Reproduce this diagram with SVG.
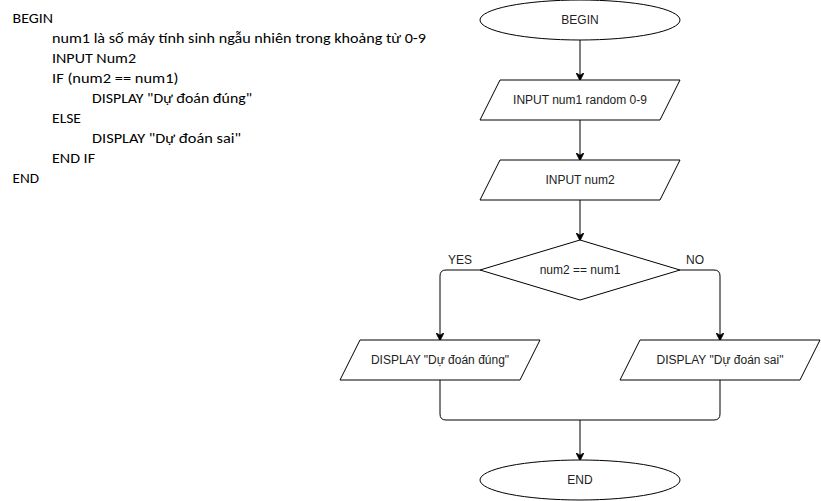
<svg xmlns="http://www.w3.org/2000/svg" width="821" height="501" viewBox="0 0 821 501">
<style>
.code{font-family:Calibri,"Carlito","Liberation Sans",Arial,sans-serif;font-size:14.5px;fill:#000}
.shape{fill:#fff;stroke:#000;stroke-width:1}
.lbl{font-family:Helvetica,"Liberation Sans",Arial,sans-serif;font-size:12px;fill:#222;text-anchor:middle;dominant-baseline:central}
.edge{fill:none;stroke:#000;stroke-width:1}
</style>
<defs>
<marker id="arr" viewBox="0 0 10 10" refX="9" refY="5" markerWidth="8" markerHeight="8" markerUnits="userSpaceOnUse" orient="auto">
<path d="M0,0 L10,5 L0,10 L3,5 Z" fill="#000" stroke="#000" stroke-width="1"/>
</marker>
</defs>
<rect width="821" height="501" fill="#fff"/>
<g id="pseudocode">
<text class="code" x="12.5" y="23" textLength="40.5" lengthAdjust="spacingAndGlyphs">BEGIN</text>
<text class="code" x="52" y="43" textLength="374" lengthAdjust="spacingAndGlyphs">num1 là số máy tính sinh ngẫu nhiên trong khoảng từ 0-9</text>
<text class="code" x="52" y="63" textLength="84" lengthAdjust="spacingAndGlyphs">INPUT Num2</text>
<text class="code" x="52" y="83" textLength="126.5" lengthAdjust="spacingAndGlyphs">IF (num2 == num1)</text>
<text class="code" x="92" y="103" textLength="160" lengthAdjust="spacingAndGlyphs">DISPLAY "Dự đoán đúng"</text>
<text class="code" x="52" y="123" textLength="29" lengthAdjust="spacingAndGlyphs">ELSE</text>
<text class="code" x="92" y="143" textLength="149" lengthAdjust="spacingAndGlyphs">DISPLAY "Dự đoán sai"</text>
<text class="code" x="52" y="163" textLength="43" lengthAdjust="spacingAndGlyphs">END IF</text>
<text class="code" x="12.5" y="183" textLength="26.5" lengthAdjust="spacingAndGlyphs">END</text>
</g>
<g id="connectors">
<path class="edge" d="M580,40 L580,80" marker-end="url(#arr)"/>
<path class="edge" d="M580,120 L580,160" marker-end="url(#arr)"/>
<path class="edge" d="M580,200 L580,240" marker-end="url(#arr)"/>
<path class="edge" d="M480,270 L446,270 Q440,270 440,276 L440,340" marker-end="url(#arr)"/>
<path class="edge" d="M680,270 L714,270 Q720,270 720,276 L720,340" marker-end="url(#arr)"/>
<path class="edge" d="M440,380 L440,414 Q440,420 446,420 L714,420 Q720,420 720,414 L720,380"/>
<path class="edge" d="M580,420 L580,460" marker-end="url(#arr)"/>
<text class="lbl" x="460" y="260">YES</text>
<text class="lbl" x="695" y="260">NO</text>
</g>
<g id="begin">
<ellipse class="shape" cx="580" cy="20" rx="100" ry="20"/>
<text class="lbl" x="580" y="20">BEGIN</text>
</g>
<g id="input1">
<polygon class="shape" points="500,80 680,80 660,120 480,120"/>
<text class="lbl" x="580" y="100">INPUT num1 random 0-9</text>
</g>
<g id="input2">
<polygon class="shape" points="500,160 680,160 660,200 480,200"/>
<text class="lbl" x="580" y="180">INPUT num2</text>
</g>
<g id="decision">
<polygon class="shape" points="580,240 680,270 580,300 480,270"/>
<text class="lbl" x="580" y="270">num2 == num1</text>
</g>
<g id="display-yes">
<polygon class="shape" points="360,340 540,340 520,380 340,380"/>
<text class="lbl" x="440" y="360">DISPLAY "Dự đoán đúng"</text>
</g>
<g id="display-no">
<polygon class="shape" points="640,340 820,340 800,380 620,380"/>
<text class="lbl" x="720" y="360">DISPLAY "Dự đoán sai"</text>
</g>
<g id="end">
<ellipse class="shape" cx="580" cy="480" rx="100" ry="20"/>
<text class="lbl" x="580" y="480">END</text>
</g>
</svg>
